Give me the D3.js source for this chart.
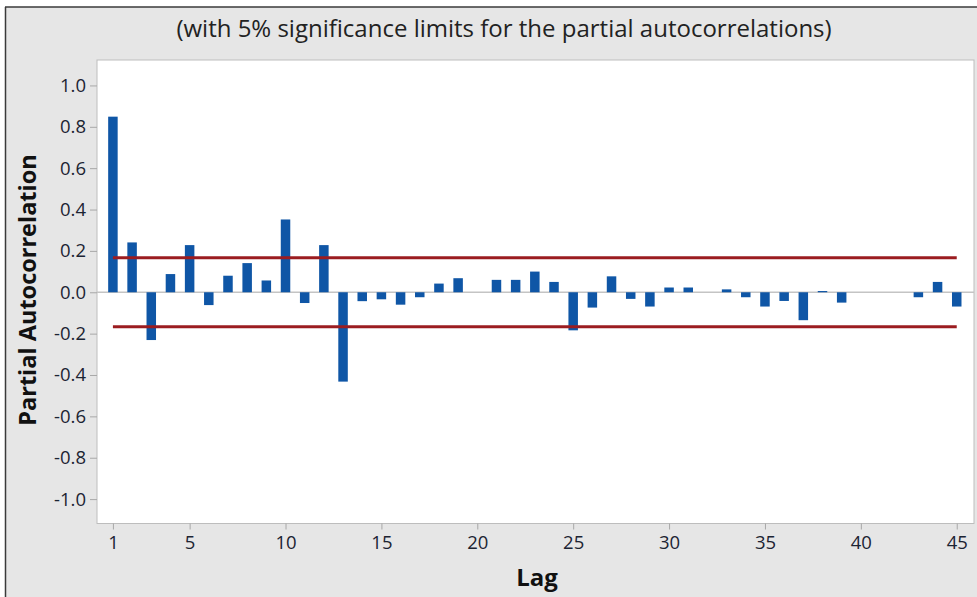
<!DOCTYPE html>
<html>
<head>
<meta charset="utf-8">
<script src="https://cdn.jsdelivr.net/npm/d3@7"></script>
<style>
  html, body { margin: 0; padding: 0; background: #ffffff; }
  svg { display: block; }
</style>
</head>
<body>
<svg id="chart" width="977" height="597"></svg>
<script>
// Partial autocorrelation function, lags 1..45
const lags = d3.range(1, 46);
const pacf = [
  0.849, 0.241, -0.231, 0.088, 0.228, -0.062, 0.080, 0.141, 0.057, 0.352,
  -0.052, 0.228, -0.432, -0.043, -0.034, -0.060, -0.024, 0.042, 0.068, 0.000,
  0.060, 0.060, 0.100, 0.050, -0.184, -0.074, 0.077, -0.032, -0.069, 0.023,
  0.023, 0.000, 0.014, -0.024, -0.069, -0.042, -0.135, 0.006, -0.050, 0.000,
  0.000, 0.000, -0.024, 0.050, -0.069
];
// 5% significance limits
const sigLimit = 0.167;
const yTicks = [1.0, 0.8, 0.6, 0.4, 0.2, 0.0, -0.2, -0.4, -0.6, -0.8, -1.0];
const xTicks = [1, 5, 10, 15, 20, 25, 30, 35, 40, 45];
const titleText = "(with 5% significance limits for the partial autocorrelations)";
const xLabel = "Lag";
const yLabel = "Partial Autocorrelation";

const W = 977, H = 597;
const plot = { left: 97, top: 60, right: 974, bottom: 523.5 };

const svg = d3.select("#chart");

// outer panel
svg.append("rect").attr("x", 0).attr("y", 0).attr("width", W).attr("height", H).attr("fill", "#ffffff");
svg.append("rect").attr("x", 6).attr("y", 7).attr("width", W - 6).attr("height", H - 7).attr("fill", "#e6e6e6");
svg.append("line").attr("x1", 5).attr("x2", W).attr("y1", 7).attr("y2", 7)
  .attr("stroke", "#3a3a3a").attr("stroke-width", 1.5);
svg.append("line").attr("x1", 5.5).attr("x2", 5.5).attr("y1", 7).attr("y2", H)
  .attr("stroke", "#3a3a3a").attr("stroke-width", 1.5);

// plot area
svg.append("rect")
  .attr("x", plot.left).attr("y", plot.top)
  .attr("width", plot.right - plot.left).attr("height", plot.bottom - plot.top)
  .attr("fill", "#ffffff").attr("stroke", "#bdbdbd").attr("stroke-width", 1);

const x = d3.scaleLinear().domain([0.17, 45.9]).range([plot.left, plot.right]);
const y = d3.scaleLinear().domain([-1.118, 1.123]).range([plot.bottom, plot.top]);

const font = "'Open Sans', 'Noto Sans', sans-serif";

// axes
const yAxis = d3.axisLeft(y).tickValues(yTicks).tickFormat(d3.format(".1f")).tickSize(7).tickPadding(4);
const gy = svg.append("g").attr("transform", `translate(${plot.left},0)`).call(yAxis);
gy.select(".domain").remove();
gy.selectAll(".tick line").attr("stroke", "#a8a8a8");
gy.selectAll(".tick text").attr("font-family", font).attr("font-size", 18.5).attr("fill", "#1c2433")
  .text(d => d3.format(".1f")(d).replace("−", "-"));

const xAxis = d3.axisBottom(x).tickValues(xTicks).tickFormat(d3.format("d")).tickSize(6).tickPadding(6);
const gx = svg.append("g").attr("transform", `translate(0,${plot.bottom})`).call(xAxis);
gx.select(".domain").remove();
gx.selectAll(".tick line").attr("stroke", "#a8a8a8");
gx.selectAll(".tick text").attr("font-family", font).attr("font-size", 18.5).attr("fill", "#1c2433");

// zero reference line
svg.append("line")
  .attr("x1", plot.left).attr("x2", plot.right)
  .attr("y1", y(0)).attr("y2", y(0))
  .attr("stroke", "#c4c4c4").attr("stroke-width", 1.5);

// bars
const barW = 9.5;
svg.append("g").selectAll("rect")
  .data(lags.map((l, i) => ({ lag: l, v: pacf[i] })))
  .join("rect")
  .attr("x", d => x(d.lag) - barW / 2)
  .attr("width", barW)
  .attr("y", d => y(Math.max(0, d.v)))
  .attr("height", d => Math.abs(y(d.v) - y(0)))
  .attr("fill", "#0f56a6");

// significance limits
[sigLimit, -sigLimit].forEach(v => {
  svg.append("line")
    .attr("x1", x(lags[0])).attr("x2", x(lags[lags.length - 1]))
    .attr("y1", y(v)).attr("y2", y(v))
    .attr("stroke", "#9b1c20").attr("stroke-width", 3);
});

// titles
svg.append("text")
  .attr("x", 504).attr("y", 37)
  .attr("text-anchor", "middle")
  .attr("font-family", font).attr("font-size", 24).attr("fill", "#222")
  .text(titleText);

svg.append("text")
  .attr("x", 537).attr("y", 586)
  .attr("text-anchor", "middle")
  .attr("font-family", font).attr("font-size", 24).attr("font-weight", "bold").attr("fill", "#111")
  .text(xLabel);

svg.append("text")
  .attr("transform", `translate(36,290) rotate(-90)`)
  .attr("text-anchor", "middle")
  .attr("font-family", font).attr("font-size", 23.5).attr("font-weight", "bold").attr("fill", "#111")
  .text(yLabel);
</script>
</body>
</html>
